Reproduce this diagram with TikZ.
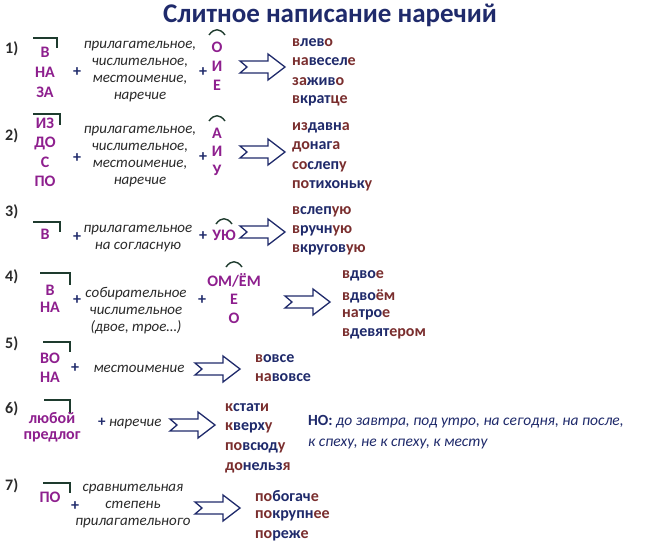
\documentclass[tikz,border=0pt]{standalone}
\usepackage{fontspec}
\setmainfont{Carlito}
\definecolor{navy}{HTML}{1F2A6B}
\definecolor{pur}{HTML}{8E1F8E}
\definecolor{brn}{HTML}{7A2E2E}
\definecolor{dk}{HTML}{2A2A2A}
\definecolor{brk}{HTML}{1E3B2E}
\newcommand{\wrd}[3]{\textcolor{brn}{#1}\textcolor{navy}{#2}\textcolor{brn}{#3}}
\tikzset{
 num/.style={font=\fontsize{16}{16}\selectfont\bfseries,text=dk,anchor=west,inner sep=0},
 pre/.style={font=\fontsize{16}{16}\selectfont\bfseries,text=pur,inner sep=0},
 plus/.style={font=\fontsize{16}{16}\selectfont\bfseries,text=navy,inner sep=0},
 desc/.style={font=\fontsize{15}{17}\selectfont\itshape,text=dk,inner sep=0,align=center},
 word/.style={font=\fontsize{16}{16}\selectfont\bfseries,anchor=west,inner sep=0},
 brkt/.style={draw=brk,line width=1.4pt},
 hat/.style={draw=brk,line width=1.4pt},
 arr/.style={draw=navy,line width=1.3pt,fill=white,line join=miter}
}
\newcommand{\harrow}[3]{% name, x, y (left tail)
 \draw[arr] (#2,#3-6) -- (#2+28,#3-6) -- (#2+28,#3-13) -- (#2+45,#3) -- (#2+28,#3+13) -- (#2+28,#3+6) -- (#2,#3+6) -- (#2+7,#3) -- cycle;
 \coordinate (#1) at (#2,#3);}
\newcommand{\brkmark}[4]{\draw[brkt] (#1,#3) -- (#2,#3) -- (#2,#4);}
\newcommand{\hatmark}[2]{\draw[hat] (#1-8,#2+4) .. controls (#1-3,#2-3) and (#1+3,#2-3) .. (#1+8,#2+4);}
\begin{document}
\begin{tikzpicture}[x=1pt,y=-1pt]
\useasboundingbox[fill=white] (0,0) rectangle (659,546);
\node[font=\fontsize{27}{27}\selectfont\bfseries,text=navy] (title) at (330,15) {Слитное написание наречий};
% row 1
\node[num] (n1) at (5,49) {1)};
\brkmark{33}{57}{38}{48}
\node[pre] (p1a) at (45,52) {В};\node[pre] (p1b) at (45,72) {НА};\node[pre] (p1c) at (45,92) {ЗА};
\node[plus] (s1) at (77,72) {+};
\node[desc] (d1) at (140,72) {прилагательное,\\числительное,\\местоимение,\\наречие};
\node[plus] (t1) at (203,72) {+};
\hatmark{217}{31}
\node[pre] (e1a) at (217,47) {О};\node[pre] (e1b) at (217,66) {И};\node[pre] (e1c) at (217,85) {Е};
\harrow{a1}{240}{67}
\node[word] at (292,43) {\wrd{в}{лев}{о}};
\node[word] at (292,62) {\wrd{на}{весел}{е}};
\node[word] at (292,82) {\wrd{за}{жив}{о}};
\node[word] at (292,101) {\wrd{в}{крат}{це}};
% row 2
\node[num] (n2) at (5,136) {2)};
\brkmark{33}{60}{114}{125}
\node[pre] at (45,123) {ИЗ};\node[pre] at (45,143) {ДО};\node[pre] at (45,162) {С};\node[pre] at (45,181) {ПО};
\node[plus] at (77,158) {+};
\node[desc] at (140,157) {прилагательное,\\числительное,\\местоимение,\\наречие};
\node[plus] at (203,157) {+};
\hatmark{217}{117}
\node[pre] at (217,133) {А};\node[pre] at (217,151) {И};\node[pre] at (217,170) {У};
\harrow{a2}{240}{152}
\node[word] at (292,128) {\wrd{из}{давн}{а}};
\node[word] at (292,147) {\wrd{до}{наг}{а}};
\node[word] at (292,167) {\wrd{со}{слеп}{у}};
\node[word] at (292,186) {\wrd{по}{тихоньк}{у}};
% row 3
\node[num] at (5,212) {3)};
\brkmark{33}{60}{222}{232}
\node[pre] at (45,234) {В};
\node[plus] at (77,237) {+};
\node[desc] at (138,239) {прилагательное\\на согласную};
\node[plus] at (203,236) {+};
\hatmark{224}{220}
\node[pre] at (224,235) {УЮ};
\harrow{a3}{240}{232}
\node[word] at (292,212) {\wrd{в}{слеп}{ую}};
\node[word] at (292,231) {\wrd{в}{ручн}{ую}};
\node[word] at (292,250) {\wrd{в}{кругов}{ую}};
% row 4
\node[num] at (5,277) {4)};
\brkmark{40}{70}{273}{285}
\node[pre] at (50,290) {В};\node[pre] at (50,307) {НА};
\node[plus] at (77,300) {+};
\node[desc] at (136,311) {собирательное\\числительное\\(двое, трое…)};
\node[plus] at (202,300) {+};
\hatmark{234}{263}
\node[pre] at (234,280) {ОМ/ЁМ};\node[pre] at (234,299) {Е};\node[pre] at (234,318) {О};
\harrow{a4}{285}{302}
\node[word] at (342,276) {\wrd{в}{дво}{е}};
\node[word] at (342,296) {\wrd{в}{дво}{ём}};
\node[word] at (342,315) {\wrd{на}{тро}{е}};
\node[word] at (342,334) {\wrd{в}{девят}{ером}};
% row 5
\node[num] at (5,344) {5)};
\brkmark{43}{70}{342}{352}
\node[pre] at (50,358) {ВО};\node[pre] at (50,377) {НА};
\node[plus] at (75,368) {+};
\node[desc] at (139,369) {местоимение};
\harrow{a5}{195}{369}
\node[word] at (255,359) {\wrd{в}{овсе}{}};
\node[word] at (255,378) {\wrd{на}{вовсе}{}};
% row 6
\node[num] at (5,409) {6)};
\brkmark{44}{70}{400}{413}
\node[pre] at (52,418) {любой};\node[pre] at (52,437) {предлог};
\node[desc,anchor=west] at (98,424) {\textcolor{navy}{\upshape\bfseries +} наречие};
\harrow{a6}{170}{425}
\node[word] at (225,408) {\wrd{к}{стат}{и}};
\node[word] at (225,428) {\wrd{к}{верх}{у}};
\node[word] at (225,448) {\wrd{по}{всюд}{у}};
\node[word] at (225,468) {\wrd{до}{нельз}{я}};
\node[font=\fontsize{15.5}{15.5}\selectfont,text=navy,anchor=west,inner sep=0,align=left] at (308,432) {\textbf{НО:} \itshape до завтра, под утро, на сегодня, на после,\\[5pt]\itshape к спеху, не к спеху, к месту};
% row 7
\node[num] at (5,486) {7)};
\brkmark{43}{70}{483}{493}
\node[pre] at (50,497) {ПО};
\node[plus] at (75,506) {+};
\node[desc] at (133,506) {сравнительная\\степень\\прилагательного};
\harrow{a7}{195}{508}
\node[word] at (255,496) {\wrd{по}{богач}{е}};
\node[word] at (255,516) {\wrd{по}{крупн}{ее}};
\node[word] at (255,536) {\wrd{по}{реж}{е}};
\end{tikzpicture}
\end{document}
